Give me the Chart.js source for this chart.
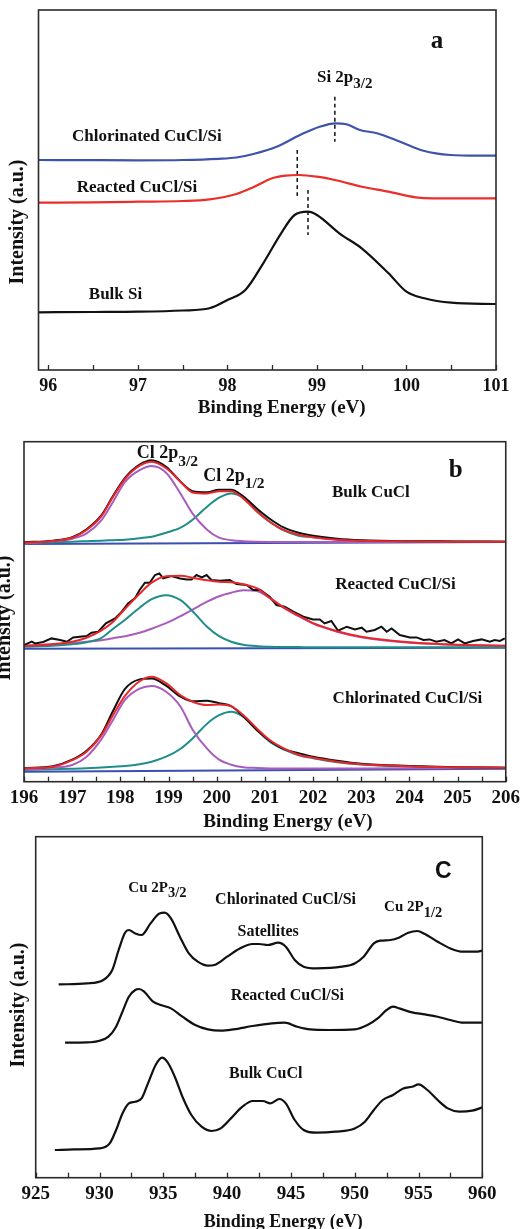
<!DOCTYPE html>
<html>
<head>
<meta charset="utf-8">
<script src="https://cdn.jsdelivr.net/npm/chart.js@4.4.1/dist/chart.umd.min.js"></script>
<style>
  body { margin: 0; background: #fff; width: 525px; height: 1229px; overflow: hidden; position: relative; }
  canvas { position: absolute; left: 0; }
</style>
</head>
<body>
<canvas id="chartA" width="525" height="425" style="top:0px"></canvas>
<canvas id="chartB" width="525" height="410" style="top:425px"></canvas>
<canvas id="chartC" width="525" height="394" style="top:835px"></canvas>
<script>
// ---- panel a : Si 2p ----
var aTicks = [96, 96.5, 97, 97.5, 98, 98.5, 99, 99.5, 100, 100.5, 101];
var aChlorX = [95.89, 96.5, 97, 97.5, 97.9, 98.1, 98.29, 98.55, 98.81, 99.03, 99.21, 99.33, 99.48, 99.67, 99.93, 100.19, 100.49, 100.8, 101];
var aChlorY = [210, 209.8, 209.7, 210, 211.2, 212.5, 216, 223.3, 235, 243.3, 246.7, 245.7, 240, 236.7, 228.3, 219.3, 215, 214.3, 214.3];
var aReactX = [95.89, 96.5, 97, 97.5, 97.8, 98.1, 98.3, 98.5, 98.65, 98.8, 99.0, 99.2, 99.5, 99.8, 100.1, 100.3, 100.6, 101];
var aReactY = [167.3, 167.7, 168.3, 169, 170.7, 176, 183.3, 191.7, 194.3, 195, 193.3, 190, 183.3, 178.3, 172.7, 171.7, 171.7, 171.7];
var aBulkX = [95.89, 96.5, 97, 97.5, 97.8, 98.0, 98.2, 98.4, 98.6, 98.75, 98.9, 99.0, 99.25, 99.5, 99.8, 100.0, 100.2, 100.5, 101];
var aBulkY = [57.7, 58, 58.3, 59.5, 61.7, 70, 80, 106.7, 136.7, 155, 158.3, 155, 136.7, 121.7, 96.7, 78.3, 71.7, 67.3, 66];
var aMarkX = [99.2, 98.78, 98.9];
var aMarkTop = [273.3, 220, 180];
var aMarkBottom = [228.3, 174, 135];

// ---- panel b : Cl 2p ----
var bTicks = [196, 196.5, 197, 197.5, 198, 198.5, 199, 199.5, 200, 200.5, 201, 201.5, 202, 202.5, 203, 203.5, 204, 204.5, 205, 205.5, 206];
var bGrid = [196, 196.6, 197, 197.3, 197.6, 197.85, 198.1, 198.4, 198.65, 198.95, 199.25, 199.5, 199.8, 200.05, 200.3, 200.55, 200.85, 201.1, 201.4, 201.7, 202, 202.5, 203, 204, 205, 206];
var bBulkData = [239.5, 241, 244.5, 252.5, 266, 286, 304, 317, 321.5, 315, 300, 290.5, 289.5, 292, 292, 285.5, 272.5, 263, 254, 249, 246, 243, 241.5, 240.5, 240.3, 240];
var bBulkFit = [239, 240.7, 244, 251.7, 265, 285, 303, 316, 320, 313.5, 300, 289.3, 288.3, 290.5, 290.5, 283.3, 269.5, 260, 251.5, 247, 244.5, 242, 241, 240.3, 240, 240];
var bBulkP32 = [238.3, 240.5, 243, 248.3, 261, 280, 300, 311.5, 315.7, 309, 288, 268, 252, 244, 241.5, 240.5, 240, 239.8, 239.7, 239.7, 239.7, 239.7, 239.8, 239.8, 239.8, 239.8];
var bBulkP12 = [238.3, 239.5, 240, 240.5, 241, 241.5, 242, 243.5, 245, 249, 254, 262, 275, 284, 288.3, 284, 270, 260, 251, 246, 244.5, 242, 241, 240.3, 240, 240];
var bReactFit = [135.7, 137.5, 140, 144, 151, 160, 173, 188, 199, 205.5, 206, 204, 201.5, 200, 199.5, 197.5, 193, 184, 174, 166, 158.5, 150.5, 145, 139.5, 137, 136];
var bReactP1 = [135, 136, 137.5, 139.5, 143.5, 153, 162, 174, 182.5, 186.5, 181.5, 170.5, 155, 145.5, 140, 137, 135.5, 135, 134.7, 134.6, 134.5, 134.5, 134.5, 134.5, 134.5, 134.5];
var bReactP2 = [136, 137.5, 138.5, 140, 141.5, 143.5, 145.5, 149, 153, 158.5, 165.5, 172, 180, 185.5, 189, 191.5, 190.5, 183.5, 173.5, 165.5, 158, 150, 144.5, 139, 136.8, 136];
var bReactRawX = [196, 196.16, 196.23, 196.4, 196.57, 196.75, 196.89, 197.02, 197.3, 197.4, 197.54, 197.7, 197.89, 198.03, 198.16, 198.3, 198.4, 198.51, 198.61, 198.72, 198.81, 198.89, 199.06, 199.24, 199.38, 199.48, 199.58, 199.69, 199.79, 199.89, 200.07, 200.27, 200.41, 200.62, 200.76, 200.9, 201.1, 201.24, 201.41, 201.59, 201.8, 202, 202.14, 202.24, 202.38, 202.52, 202.7, 202.87, 203.01, 203.11, 203.28, 203.42, 203.53, 203.63, 203.8, 204.01, 204.15, 204.29, 204.42, 204.56, 204.73, 204.87, 205.01, 205.15, 205.32, 205.5, 205.67, 205.77, 205.88, 205.98];
var bReactRawY = [136.7, 140, 138.3, 139.7, 143.3, 141.7, 140, 144.3, 145.7, 149, 150, 158.3, 163.3, 170, 178.3, 183.3, 191.7, 199, 199, 206.7, 208.3, 203.3, 205.6, 203.3, 202.3, 202.3, 206.7, 204.3, 206.7, 201.7, 201, 201.7, 197.7, 196.7, 191.7, 192, 185, 176.7, 175, 170, 165, 162.3, 162.3, 158.3, 160.7, 151, 155, 152.3, 154, 150, 151.7, 155, 150, 153.3, 146.7, 144.3, 144.3, 141.7, 142.3, 140, 141.7, 138.3, 142.3, 138.3, 140.7, 142.3, 140, 141.7, 140.7, 143.3];
var bChlorData = [13.5, 15.5, 22, 31, 47, 71, 93, 102.3, 103.3, 96, 85, 80.5, 81, 78.5, 75.5, 65.5, 51, 41, 32.5, 28.5, 25, 21, 18, 15.8, 14.5, 14];
var bChlorFit = [13.3, 15, 21.5, 30, 46, 66.7, 86, 100.5, 105, 98.5, 86.5, 80, 76.7, 77.3, 75.5, 66.7, 52.5, 41.7, 33, 27, 24, 20, 17.5, 15.5, 14.5, 14];
var bChlorP32 = [12.3, 14, 16.7, 25, 42, 62, 82, 93, 95.7, 90, 75, 52, 33, 22, 17, 14.5, 13.7, 13.3, 13.2, 13.2, 13.2, 13.2, 13.3, 13.4, 13.5, 13.6];
var bChlorP12 = [11.7, 12.5, 13, 13.5, 14.3, 15, 15.7, 17.5, 20, 25, 33, 43.3, 58, 66.5, 70, 65, 51, 40, 32, 26.5, 23.5, 19.5, 17.3, 15.3, 14.3, 14];
var bBaseX = [196, 206];
var bBulkBase = [237.8, 239.6];
var bReactBase = [133, 134];
var bChlorBase = [10, 13];

// ---- panel c : Cu 2p ----
var cTicks = [925, 927.5, 930, 932.5, 935, 937.5, 940, 942.5, 945, 947.5, 950, 952.5, 955, 957.5, 960];
var cChlorX = [926.8, 929, 930.3, 931, 931.5, 932, 932.3, 932.8, 933.3, 934, 934.7, 935.1, 935.6, 936.3, 937, 937.7, 938.5, 939, 940, 941, 942, 942.5, 943.2, 944, 944.6, 945.3, 946, 947, 949, 950, 950.7, 951.5, 952, 952.8, 953.5, 954.2, 954.9, 955.5, 956.5, 957.5, 958.5, 959.5, 960];
var cChlorY = [193.3, 194.3, 197.7, 207.7, 227.7, 245, 247.7, 244.3, 242.7, 254.3, 264.3, 265, 259.3, 241, 224.3, 216, 212, 212.7, 221, 229.3, 233.7, 233.7, 232.7, 235, 231, 217.7, 211, 209.3, 211, 214.3, 221, 234.3, 237, 237.7, 240.3, 245, 246.7, 243.7, 236, 229.3, 226, 226, 227];
var cReactX = [927.3, 929, 930, 930.7, 931.3, 931.8, 932.3, 932.8, 933.1, 933.5, 934.2, 934.8, 935.6, 936.5, 937.5, 938.5, 939.5, 940.5, 942, 943.5, 944.5, 945.5, 946.5, 948, 950, 951, 951.8, 952.5, 953, 953.5, 954.5, 955.5, 956.5, 957.5, 958.5, 960];
var cReactY = [135, 135.3, 137, 141, 151, 166, 181, 187.7, 188.7, 186, 176, 172.7, 169.3, 161, 152.7, 148.3, 147, 148.3, 151.7, 154.3, 155, 151, 148.3, 147.7, 148.3, 152.7, 159.3, 167.7, 171, 169.3, 165.3, 163.3, 161, 157.7, 155, 155];
var cBulkX = [926.5, 928, 930, 930.8, 931.3, 931.8, 932.3, 932.8, 933.3, 933.8, 934.4, 934.9, 935.3, 935.9, 936.5, 937.2, 938, 938.8, 939.5, 940.3, 941.2, 942, 942.8, 943.4, 944.1, 944.6, 945.3, 946, 947, 948.5, 950, 950.8, 951.5, 952.2, 953, 953.8, 954.5, 955, 955.7, 956.5, 957.3, 958.2, 959.2, 960];
var cBulkY = [27.7, 28.3, 29.3, 34.3, 47.7, 64.3, 74.3, 76, 79.3, 94.3, 112.7, 120, 116, 101, 81, 62.7, 51, 46.7, 49.3, 59.3, 71, 76.7, 76.7, 74.3, 78.7, 74.3, 57.7, 47.7, 45, 46, 49.3, 56, 67.7, 77.7, 82.7, 89.3, 91, 93.3, 87.7, 77.7, 69.3, 66, 67, 70.3];

var SERIF = "'Liberation Serif', 'Times New Roman', serif";
var SANS = "'Liberation Sans', Arial, sans-serif";

function pts(xs, ys) {
    return xs.map(function (x, i) { return {x: x, y: ys[i]}; });
}

function line(data, color, width, extra) {
    return Object.assign({
        data: data,
        borderColor: color,
        backgroundColor: color,
        borderWidth: width,
        pointRadius: 0,
        fill: false,
        cubicInterpolationMode: 'monotone'
    }, extra || {});
}

// frame, inward ticks, annotations and axis titles
function panelPlugin(cfg) {
    return {
        id: 'panelText',
        afterDraw: function (chart) {
            var ctx = chart.ctx, xs = chart.scales.x, ys = chart.scales.y, area = chart.chartArea;
            ctx.save();
            ctx.strokeStyle = '#2a2a2a';
            ctx.lineWidth = 1.6;
            ctx.strokeRect(area.left, area.top, area.right - area.left, area.bottom - area.top);
            ctx.lineWidth = 1.3;
            xs.ticks.forEach(function (t) {
                var px = Math.round(xs.getPixelForValue(t.value)) + 0.5;
                ctx.beginPath();
                ctx.moveTo(px, area.bottom);
                ctx.lineTo(px, area.bottom - 5);
                ctx.stroke();
            });
            ctx.fillStyle = '#111';
            ctx.textBaseline = 'alphabetic';
            cfg.labels.forEach(function (l) {
                var px = xs.getPixelForValue(l.x), py = ys.getPixelForValue(l.y);
                ctx.font = 'bold ' + l.size + 'px ' + (l.family || SERIF);
                if (l.sub) {
                    ctx.textAlign = 'left';
                    ctx.fillText(l.text, px, py);
                    var w = ctx.measureText(l.text).width;
                    ctx.font = 'bold ' + l.subSize + 'px ' + SERIF;
                    ctx.fillText(l.sub, px + w, py + l.subDy);
                } else {
                    ctx.textAlign = 'center';
                    ctx.fillText(l.text, px, py);
                }
            });
            ctx.textAlign = 'center';
            ctx.textBaseline = 'middle';
            ctx.font = 'bold ' + cfg.xTitle.size + 'px ' + SERIF;
            ctx.fillText('Binding Energy (eV)', cfg.xTitle.x, cfg.xTitle.y);
            ctx.translate(cfg.yTitle.x, cfg.yTitle.y);
            ctx.rotate(-Math.PI / 2);
            ctx.font = 'bold ' + cfg.yTitle.size + 'px ' + SERIF;
            ctx.fillText('Intensity (a.u.)', 0, 0);
            ctx.restore();
        }
    };
}

function makeChart(id, datasets, o) {
    var canvas = document.getElementById(id);
    return new Chart(canvas, {
        type: 'line',
        data: {datasets: datasets},
        options: {
            responsive: false,
            animation: false,
            devicePixelRatio: 1,
            layout: {padding: {left: o.left, right: o.right, top: o.top, bottom: 0}},
            plugins: {legend: {display: false}, tooltip: {enabled: false}},
            scales: {
                x: {
                    type: 'linear',
                    min: o.xMin,
                    max: o.xMax,
                    grid: {display: false, drawTicks: false},
                    border: {display: false},
                    afterBuildTicks: function (scale) {
                        scale.ticks = o.ticks.map(function (v) { return {value: v}; });
                    },
                    afterFit: function (scale) { scale.height = o.xHeight; },
                    ticks: {
                        autoSkip: false,
                        maxRotation: 0,
                        padding: o.tickPad,
                        color: '#111',
                        font: {family: SERIF, weight: 'bold', size: o.tickSize, lineHeight: 1.2},
                        callback: function (v) { return Number.isInteger(v) ? String(v) : ''; }
                    }
                },
                y: {type: 'linear', display: false, min: 0, max: o.yMax}
            }
        },
        plugins: [panelPlugin(o)]
    });
}

// panel a
var aDatasets = [
    line(pts(aChlorX, aChlorY), '#3d54a8', 2.2),
    line(pts(aReactX, aReactY), '#ea2f2a', 2.2),
    line(pts(aBulkX, aBulkY), '#111111', 2.2)
];
aMarkX.forEach(function (x, i) {
    aDatasets.push(line(pts([x, x], [aMarkTop[i], aMarkBottom[i]]), '#111111', 1.5, {borderDash: [4, 3]}));
});
makeChart('chartA', aDatasets, {
    left: 38.5, right: 29, top: 10, xHeight: 55, xMin: 95.89, xMax: 101, yMax: 360,
    ticks: aTicks, tickPad: 6, tickSize: 18,
    xTitle: {x: 281.7, y: 408, size: 19},
    yTitle: {x: 18, y: 222, size: 20},
    labels: [
        {x: 100.34, y: 322, text: 'a', size: 25},
        {x: 99.0, y: 288.3, text: 'Si 2p', sub: '3/2', size: 17, subSize: 15, subDy: 6.6},
        {x: 97.10, y: 229, text: 'Chlorinated CuCl/Si', size: 17},
        {x: 96.99, y: 177.7, text: 'Reacted CuCl/Si', size: 17},
        {x: 96.75, y: 70.7, text: 'Bulk Si', size: 17}
    ]
});

// panel b
var RED = '#e8272b', MAG = '#a95cbb', TEAL = '#1f8e89', BLUE = '#3a4fb2';
makeChart('chartB', [
    line(pts(bGrid, bBulkFit), RED, 2),
    line(pts(bGrid, bBulkData), '#111111', 2),
    line(pts(bGrid, bBulkP32), MAG, 2),
    line(pts(bGrid, bBulkP12), TEAL, 2),
    line(pts(bBaseX, bBulkBase), BLUE, 2),
    line(pts(bGrid, bReactFit), RED, 2),
    line(pts(bReactRawX, bReactRawY), '#111111', 2, {cubicInterpolationMode: 'default', tension: 0}),
    line(pts(bGrid, bReactP1), TEAL, 2),
    line(pts(bGrid, bReactP2), MAG, 2),
    line(pts(bBaseX, bReactBase), BLUE, 2),
    line(pts(bGrid, bChlorFit), RED, 2),
    line(pts(bGrid, bChlorData), '#111111', 2),
    line(pts(bGrid, bChlorP32), MAG, 2),
    line(pts(bGrid, bChlorP12), TEAL, 2),
    line(pts(bBaseX, bChlorBase), BLUE, 2)
], {
    left: 24, right: 19, top: 16.7, xHeight: 53.3, xMin: 196, xMax: 206, yMax: 340,
    ticks: bTicks, tickPad: 5, tickSize: 19,
    xTitle: {x: 288, y: 397, size: 19.2},
    yTitle: {x: 5, y: 193, size: 20},
    labels: [
        {x: 198.34, y: 323.4, text: 'Cl 2p', sub: '3/2', size: 18, subSize: 15.5, subDy: 7.7},
        {x: 199.72, y: 301, text: 'Cl 2p', sub: '1/2', size: 18, subSize: 15.5, subDy: 7.6},
        {x: 204.96, y: 304.3, text: 'b', size: 25},
        {x: 203.2, y: 284.3, text: 'Bulk CuCl', size: 17},
        {x: 203.71, y: 192.7, text: 'Reacted CuCl/Si', size: 17},
        {x: 203.96, y: 79, text: 'Chlorinated CuCl/Si', size: 17}
    ]
});

// panel c
makeChart('chartC', [
    line(pts(cChlorX, cChlorY), '#111111', 2.2),
    line(pts(cReactX, cReactY), '#111111', 2.2),
    line(pts(cBulkX, cBulkY), '#111111', 2.2)
], {
    left: 35.7, right: 42.7, top: 1.7, xHeight: 51.3, xMin: 925, xMax: 960, yMax: 341,
    ticks: cTicks, tickPad: 5, tickSize: 19,
    xTitle: {x: 283.3, y: 387.4, size: 18},
    yTitle: {x: 18.5, y: 170, size: 20},
    labels: [
        {x: 956.94, y: 299.4, text: 'C', size: 23, family: SANS},
        {x: 932.26, y: 286, text: 'Cu 2P', sub: '3/2', size: 15, subSize: 14.5, subDy: 5.6},
        {x: 944.58, y: 273.7, text: 'Chlorinated CuCl/Si', size: 16},
        {x: 943.22, y: 241.7, text: 'Satellites', size: 16},
        {x: 952.3, y: 266.7, text: 'Cu 2P', sub: '1/2', size: 15, subSize: 14.5, subDy: 5.7},
        {x: 944.72, y: 177.7, text: 'Reacted CuCl/Si', size: 16},
        {x: 943.03, y: 99.4, text: 'Bulk CuCl', size: 16}
    ]
});
</script>
</body>
</html>
